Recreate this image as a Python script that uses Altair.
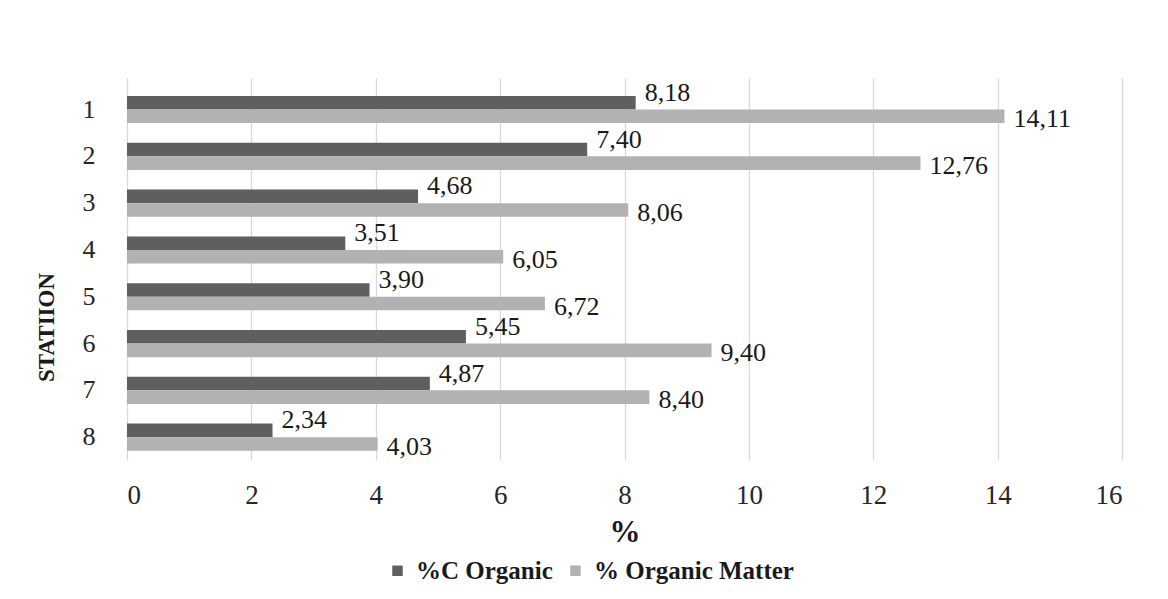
import altair as alt
import pandas as pd

stations = ["1", "2", "3", "4", "5", "6", "7", "8"]
c_organic = [8.18, 7.40, 4.68, 3.51, 3.90, 5.45, 4.87, 2.34]
organic_matter = [14.11, 12.76, 8.06, 6.05, 6.72, 9.40, 8.40, 4.03]
series_names = ["%C Organic", "% Organic Matter"]
x_ticks = [0, 2, 4, 6, 8, 10, 12, 14, 16]

rows = []
for s, a, b in zip(stations, c_organic, organic_matter):
    for name, v in zip(series_names, (a, b)):
        rows.append({"station": s, "series": name, "value": v,
                     "label": f"{v:.2f}".replace(".", ",")})
df = pd.DataFrame(rows)

FONT = "Liberation Serif, Times New Roman, serif"

y_enc = alt.Y("station:N", sort=stations,
              scale=alt.Scale(paddingInner=0.42, paddingOuter=0.291, align=0.66),
              axis=alt.Axis(title="STATIION", titleFont=FONT, titleFontSize=23,
                            titleFontWeight="bold", titleColor="#1a1a1a",
                            titleAngle=270, titleX=-81, titleY=249,
                            titleAlign="center", titleBaseline="middle",
                            labelFont=FONT, labelFontSize=26, labelColor="#262626",
                            labelPadding=32, ticks=False, tickSize=0, domain=False,
                            grid=False))
yoff = alt.YOffset("series:N", sort=series_names,
                   scale=alt.Scale(paddingInner=0, paddingOuter=0))
x_enc = alt.X("value:Q",
              scale=alt.Scale(domain=[0, 16], nice=False),
              axis=alt.Axis(values=x_ticks, title="%", titleFont=FONT,
                            titleFontSize=31, titleFontWeight="bold",
                            titleColor="#1a1a1a", titleY=72, titleBaseline="middle",
                            labelFont=FONT, labelFontSize=27, labelColor="#262626",
                            labelBaseline="middle", labelPadding=35,
                            ticks=False, tickSize=0, domain=False,
                            grid=True, gridColor="#d9d9d9", gridWidth=1.3))

base = alt.Chart(df)

bars = base.mark_bar(stroke=None).encode(
    y=y_enc, yOffset=yoff, x=x_enc,
    color=alt.Color("series:N", sort=series_names,
                    scale=alt.Scale(domain=series_names, range=["#5f5f5f", "#b2b2b2"]),
                    legend=alt.Legend(title=None, orient="none", direction="horizontal",
                                      legendX=258, legendY=480,
                                      symbolType="square", symbolSize=110,
                                      symbolStrokeWidth=0,
                                      labelFont=FONT, labelFontSize=25,
                                      labelFontWeight="bold", labelColor="#1a1a1a",
                                      labelLimit=500,
                                      columnPadding=10, labelOffset=6)),
)

txt_dark = base.transform_filter(alt.datum.series == series_names[0]).mark_text(
    align="left", baseline="middle", dx=9, dy=-10, font=FONT, fontSize=26,
    color="#1a1a1a").encode(y=y_enc, yOffset=yoff, x=x_enc, text="label:N")

txt_light = base.transform_filter(alt.datum.series == series_names[1]).mark_text(
    align="left", baseline="middle", dx=9, dy=3, font=FONT, fontSize=26,
    color="#1a1a1a").encode(y=y_enc, yOffset=yoff, x=x_enc, text="label:N")

chart = alt.layer(bars, txt_dark, txt_light).properties(
    width=995, height=382,
    autosize=alt.AutoSizeParams(type="none"),
    padding={"left": 119, "top": 70, "right": 38, "bottom": 131},
    background="white",
).configure_view(stroke=None)

chart.save("out.html", embed_options={"renderer": "svg", "actions": False})
